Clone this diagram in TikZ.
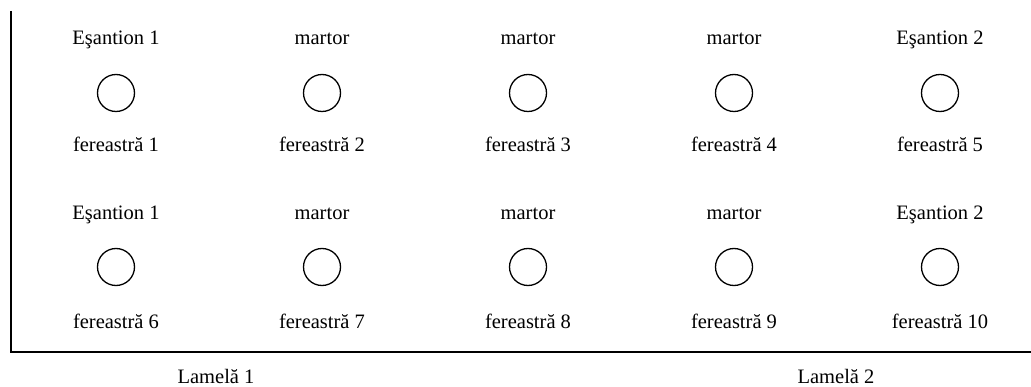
\documentclass[tikz,border=0pt]{standalone}
\usepackage{fontspec}
\setmainfont{Liberation Serif}
\begin{document}
\begin{tikzpicture}[x=1pt,y=-1pt,
  lbl/.style={anchor=base,inner sep=0pt,font=\fontsize{20.5}{23}\selectfont},
  win/.style={circle,draw,line width=1.3pt,minimum size=37pt,inner sep=0pt},
  frame/.style={line width=2pt}]
\useasboundingbox (0,0) rectangle (1031,387);
\foreach \i/\x/\top/\bot/\topb/\botb in {1/116/Eşantion 1/1/Eşantion 1/6,2/322/martor/2/martor/7,3/528/martor/3/martor/8,4/734/martor/4/martor/9,5/940/Eşantion 2/5/Eşantion 2/10}{
  \node[lbl] (t\i) at (\x,45) {\top};
  \node[win] (c\i) at (\x,93) {};
  \node[lbl] (f\i) at (\x,152) {fereastră \bot};
  \node[lbl] (tb\i) at (\x,220) {\topb};
  \node[win] (cb\i) at (\x,267) {};
  \node[lbl] (fb\i) at (\x,329) {fereastră \botb};
}
\coordinate (top) at (11,11);
\coordinate (corner) at (11,352);
\coordinate (right) at (1031,352);
\draw[frame] (top) -- (corner) -- (right);
\node[lbl] (l1) at (216,383) {Lamelă 1};
\node[lbl] (l2) at (836,383) {Lamelă 2};
\end{tikzpicture}
\end{document}
